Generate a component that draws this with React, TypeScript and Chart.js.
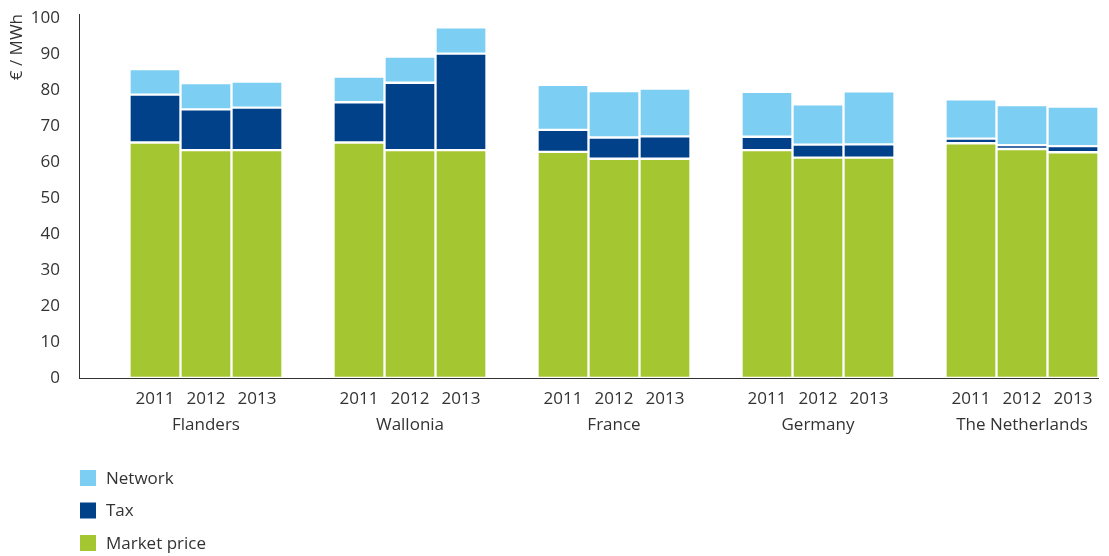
import React, { useEffect, useRef } from 'react';
import { Chart, registerables } from 'chart.js';

Chart.register(...registerables);

// Categories
const countries = ['Flanders', 'Wallonia', 'France', 'Germany', 'The Netherlands'];
const years = ['2011', '2012', '2013'];

// Values in €/MWh; one row per country, columns = 2011, 2012, 2013
const marketPrice = [
  [65.4, 63.3, 63.3],
  [65.4, 63.3, 63.3],
  [62.8, 60.9, 60.9],
  [63.3, 61.2, 61.2],
  [65.2, 63.6, 62.7],
];
const tax = [
  [13.3, 11.3, 11.8],
  [11.2, 18.7, 26.8],
  [6.1, 5.9, 6.2],
  [3.7, 3.6, 3.7],
  [1.3, 1.1, 1.7],
];
const network = [
  [7.1, 7.3, 7.2],
  [7.1, 7.3, 7.3],
  [12.5, 12.9, 13.3],
  [12.5, 11.2, 14.7],
  [10.9, 11.1, 11.0],
];

// Y-axis tick labels
const yTicks = [0, 10, 20, 30, 40, 50, 60, 70, 80, 90, 100];

const seriesNames = ['Market price', 'Tax', 'Network'];
const seriesColors = ['#A4C631', '#00418A', '#7CCEF2'];
const seriesValues = [marketPrice, tax, network];

const TEXT = '#333333';
const FONT = '"Open Sans", "DejaVu Sans", sans-serif';

const legendPlugin = {
  id: 'verticalLegend',
  afterDraw(chart: any) {
    const ctx = chart.ctx;
    ctx.save();
    ctx.font = `17px ${FONT}`;
    ctx.textBaseline = 'middle';
    ctx.textAlign = 'left';
    // legend order: Network, Tax, Market price (top to bottom)
    const order = [2, 1, 0];
    order.forEach((si, row) => {
      const cy = 478 + row * 32.5;
      ctx.fillStyle = seriesColors[si];
      ctx.fillRect(80, cy - 8, 16, 16);
      ctx.fillStyle = TEXT;
      ctx.fillText(seriesNames[si], 106, cy + 1);
    });
    ctx.restore();
  },
};

export default function App() {
  const canvasRef = useRef<HTMLCanvasElement>(null);

  useEffect(() => {
    if (!canvasRef.current) return;
    Chart.defaults.font.family = FONT;
    Chart.defaults.font.size = 17;
    Chart.defaults.color = TEXT;

    const datasets: any[] = [];
    years.forEach((yr, yi) => {
      seriesNames.forEach((name, si) => {
        datasets.push({
          label: `${name} ${yr}`,
          stack: yr,
          data: countries.map((_, ci) => ({ x: ci, y: seriesValues[si][ci][yi] })),
          backgroundColor: seriesColors[si],
          borderColor: '#ffffff',
          borderWidth: 1.5,
          borderSkipped: false,
          barThickness: 51,
        });
      });
    });

    // tick positions: each bar of each country (bar pitch is a quarter of the country pitch)
    const xTickValues: number[] = [];
    const xTickLabels: string[][] = [];
    countries.forEach((c, ci) => {
      years.forEach((yr, yi) => {
        xTickValues.push(ci + (yi - 1) * 0.25);
        xTickLabels.push(yi === 1 ? [yr, c] : [yr, '']);
      });
    });

    const chart = new Chart(canvasRef.current, {
      type: 'bar',
      data: { datasets },
      plugins: [legendPlugin],
      options: {
        animation: false,
        responsive: true,
        maintainAspectRatio: false,
        layout: { padding: { top: 14, right: 11, left: 0, bottom: 0 } },
        plugins: {
          legend: { display: false },
          tooltip: { enabled: false },
        },
        scales: {
          x: {
            type: 'linear',
            offset: false,
            min: -0.6225,
            max: 4.3725,
            grid: { display: false, drawTicks: false, offset: false },
            border: { display: true, color: '#333333', width: 1 },
            afterBuildTicks: (scale: any) => {
              scale.ticks = xTickValues.map((v) => ({ value: v }));
            },
            afterFit: (scale: any) => {
              scale.height = 178;
              scale.paddingLeft = 0;
              scale.paddingRight = 0;
            },
            ticks: {
              autoSkip: false,
              maxRotation: 0,
              minRotation: 0,
              padding: 8,
              font: { size: 17, lineHeight: 26 / 17 },
              color: TEXT,
              callback: (_v: any, i: number) => xTickLabels[i],
            },
          },
          y: {
            stacked: true,
            min: 0,
            max: 101.1,
            grid: { display: false, drawTicks: false },
            border: { display: true, color: '#333333', width: 1 },
            afterBuildTicks: (scale: any) => {
              scale.ticks = yTicks.map((v) => ({ value: v }));
            },
            afterFit: (scale: any) => {
              scale.width = 79;
              scale.paddingTop = 0;
              scale.paddingBottom = 0;
            },
            ticks: {
              padding: 19,
              font: { size: 17 },
              color: TEXT,
              callback: (v: any) => String(v),
            },
            title: {
              display: true,
              text: '€ / MWh',
              align: 'end',
              font: { size: 17 },
              color: TEXT,
              padding: { top: 7, bottom: 0 },
            },
          },
        },
      } as any,
    });
    return () => chart.destroy();
  }, []);

  return (
    <div style={{ position: 'absolute', left: 0, top: 0, width: 1109, height: 556 }}>
      <canvas ref={canvasRef} />
    </div>
  );
}
